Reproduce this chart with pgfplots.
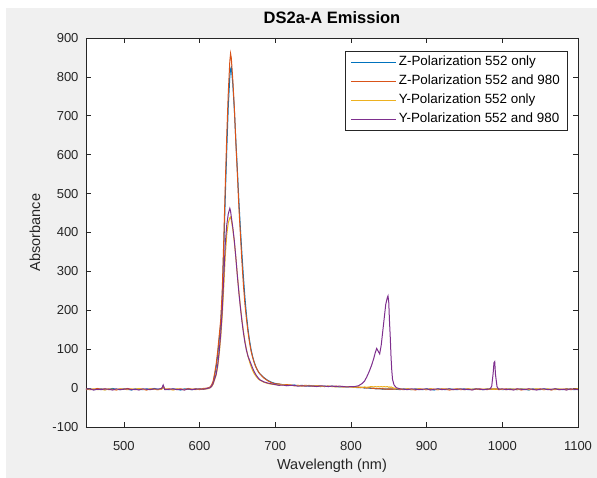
\documentclass[border=0pt]{standalone}
\usepackage{pgfplots}
\pgfplotsset{compat=1.18}
\usepackage{pgfplotstable}
\usepackage{fontspec}
\setmainfont{Liberation Sans}

\definecolor{mblue}{rgb}{0,0.447,0.741}
\definecolor{morange}{rgb}{0.85,0.325,0.098}
\definecolor{myellow}{rgb}{0.929,0.694,0.125}
\definecolor{mpurple}{rgb}{0.494,0.184,0.556}
\definecolor{figbg}{RGB}{240,240,240}
\definecolor{axcol}{rgb}{0.15,0.15,0.15}

% x = wavelength, zo = Z 552 only, za = Z 552 and 980, yo = Y 552 only, ya = Y 552 and 980
\pgfplotstableread{
x zo za yo ya
450 -3 -2 -4 -3
455 -2 -4 -3 -2
460 -4 -3 -2 -5
465 -3 -1 -4 -3
470 -2 -3 -3 -4
475 -4 -2 -5 -2
480 -3 -4 -2 -3
485 -1 -3 -3 -5
490 -3 -5 -4 -2
495 -4 -2 -2 -4
500 -2 -3 -3 -3
505 -3 -1 -4 -2
510 -5 -3 -2 -4
515 -2 -4 -3 -3
520 -3 -2 -1 -5
525 -4 -3 -3 -2
530 -2 -5 -4 -3
535 -3 -2 -2 -4
540 -1 -3 -3 -2
545 -3 -4 -4 -3
550 -2 -2 -3 -1
552 6 4 5 8
554 -3 -3 -2 -4
560 -4 -2 -3 -3
565 -2 -4 -5 -2
570 -3 -3 -2 -4
575 -5 -2 -3 -3
580 -2 -4 -4 -5
585 -3 -1 -2 -2
590 -4 -3 -3 -4
595 -2 -2 -4 -3
600 -3 -4 -2 -2
605 -2 -1 -3 -3
610 -1 0 -2 -1
612 0 1 -1 0
614 2 3 1 1
616 6 8 4 5
618 15 18 10 12
620 33 38 22 24
622 55 62 34 36
624 85 95 55 60
626 125 135 88 95
628 165 175 130 140
630 235 250 185 200
632 355 380 260 285
634 490 520 340 370
636 615 650 395 420
638 725 760 425 448
640 800 840 438 462
641 820 860 440 455
642 825 848 432 440
644 780 790 408 412
646 715 720 375 378
648 635 630 335 335
650 560 550 290 288
652 480 465 248 245
654 410 395 210 207
656 345 325 176 172
658 285 265 146 142
660 232 215 120 117
662 188 178 99 97
664 152 145 82 82
666 123 118 68 72
668 100 96 56 62
670 82 80 46 52
672 68 67 38 43
674 57 56 32 36
676 48 48 27 30
678 41 41 23 25
680 36 36 20 21
685 27 26 15 16
690 20 19 12 13
695 15 14 10 11
700 12 11 9 9
705 10 11 8 7
710 9 8 9 8
715 8 9 7 6
720 7 8 8 7
725 8 6 6 7
730 6 7 7 5
735 7 6 5 6
740 6 7 6 5
745 5 6 7 6
750 6 5 5 5
755 5 6 6 4
760 4 5 5 6
765 5 4 4 5
770 4 5 5 4
775 5 4 4 5
780 4 5 3 4
785 3 4 4 5
790 4 3 3 4
795 3 4 4 3
800 4 3 3 4
805 2 3 2 4
810 1 2 3 6
815 2 1 2 12
818 0 1 3 18
821 1 0 2 29
824 0 1 3 42
827 -1 0 4 57
830 0 -1 3 75
832 -2 -1 4 90
834 -1 -2 3 102
836 -2 -1 4 95
838 -1 -2 3 88
840 -2 -2 4 110
842 -3 -1 3 145
844 -2 -3 4 180
846 -3 -2 3 215
848 -2 -3 4 232
849 -3 -2 3 237
850 -2 -3 2 220
851 -3 -2 3 170
852 -2 -3 2 130
853 -3 -2 3 80
854 -2 -3 2 45
855 -3 -2 1 22
857 -2 -3 0 8
860 -3 -2 -1 1
865 -4 -3 -2 -2
870 -2 -4 -3 -3
875 -3 -2 -2 -4
880 -4 -3 -4 -2
885 -2 -5 -3 -3
890 -3 -2 -2 -4
895 -4 -3 -3 -3
900 -2 -4 -4 -2
905 -3 -2 -2 -5
910 -5 -3 -3 -3
915 -2 -4 -4 -2
920 -3 -2 -3 -4
925 -4 -3 -2 -3
930 -2 -5 -3 -2
935 -3 -3 -4 -4
940 -4 -2 -2 -3
945 -3 -4 -3 -2
950 -2 -3 -4 -4
955 -4 -2 -2 -3
960 -3 -4 -3 -5
965 -2 -3 -2 -2
970 -3 -2 -4 -3
975 -4 -3 -3 -4
980 -2 -4 -2 -3
984 -3 -2 -3 -2
986 -2 -3 -2 5
988 -3 -2 -3 40
989 -2 -3 -2 65
990 -3 -2 -3 68
991 -2 -3 -2 35
993 -3 -2 -3 4
995 -2 -4 -2 -3
1000 -4 -3 -3 -2
1005 -3 -2 -4 -4
1010 -2 -4 -2 -3
1015 -3 -3 -3 -5
1020 -4 -2 -4 -2
1025 -2 -5 -2 -3
1030 -3 -3 -3 -4
1035 -5 -2 -4 -2
1040 -2 -4 -3 -3
1045 -3 -3 -2 -5
1050 -4 -2 -3 -3
1055 -2 -4 -4 -2
1060 -3 -3 -2 -4
1065 -4 -5 -3 -3
1070 -2 -2 -4 -2
1075 -3 -4 -2 -4
1080 -4 -3 -3 -3
1085 -2 -2 -4 -5
1090 -3 -4 -2 -2
1095 -4 -3 -3 -3
1100 -3 -2 -2 -4
}\emission

\begin{document}
\begin{tikzpicture}
\fill[white] (-86pt,-51pt) rectangle (511pt,427pt);
\fill[figbg] (-80pt,-51pt) rectangle (511pt,419pt);
\begin{axis}[
  at={(0,0)}, anchor=south west,
  scale only axis, width=492pt, height=389pt,
  xmin=450, xmax=1100, ymin=-100, ymax=900,
  xtick={500,600,...,1100}, ytick={-100,0,...,900},
  axis background/.style={fill=white},
  axis line style={axcol, line width=0.6pt},
  tick style={axcol, line width=0.6pt},
  major tick length=5pt,
  tick align=inside,
  xtick pos=both, ytick pos=both,
  /pgf/number format/assume math mode=true,
  /pgf/number format/1000 sep={},
  tick label style={font=\fontsize{13}{15}\selectfont, text=axcol},
  xticklabel style={yshift=-11pt},
  yticklabel style={xshift=-4pt},
  xlabel={Wavelength (nm)}, ylabel={Absorbance},
  label style={font=\fontsize{14.5}{17}\selectfont, text=axcol},
  xlabel style={at={(axis description cs:0.5,-0.1003)}, anchor=center},
  ylabel style={at={(axis description cs:-0.1037,0.5)}, anchor=center},
  title={DS2a-A Emission},
  title style={font=\bfseries\fontsize{16.5}{19}\selectfont, at={(axis description cs:0.5,1.036)}, anchor=center, yshift=0pt},
  legend cell align=left,
  legend style={at={(axis description cs:0.9776,0.967)}, anchor=north east,
    draw=axcol, fill=white, font=\fontsize{13.4}{15}\selectfont,
    inner xsep=5pt, inner ysep=4.5pt, row sep=5.5pt,
    nodes={inner xsep=2pt, inner ysep=0pt, text height=10pt, text depth=3.5pt}},
  legend image code/.code={\draw[#1, line width=1.4pt] (0pt,0pt) -- (45pt,0pt);},
  every axis plot/.append style={line width=1pt},
]
\addplot[draw=mblue] table[x=x, y=zo] {\emission};
\addplot[draw=morange] table[x=x, y=za] {\emission};
\addplot[draw=myellow] table[x=x, y=yo] {\emission};
\addplot[draw=mpurple] table[x=x, y=ya] {\emission};
\legend{Z-Polarization 552 only, Z-Polarization 552 and 980, Y-Polarization 552 only, Y-Polarization 552 and 980}
\end{axis}
\end{tikzpicture}
\end{document}
